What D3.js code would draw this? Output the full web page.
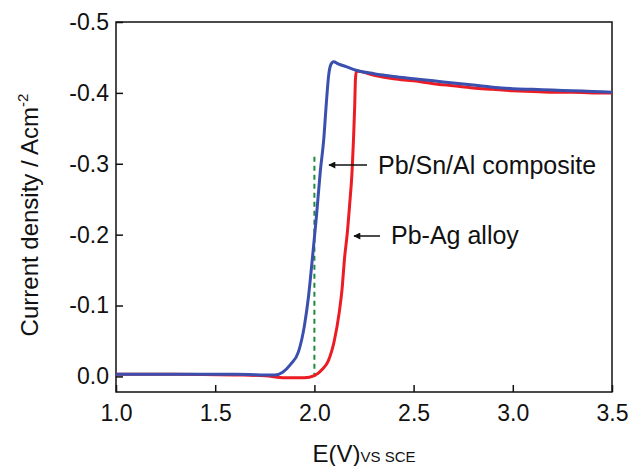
<!DOCTYPE html>
<html>
<head>
<meta charset="utf-8">
<script src="https://cdn.jsdelivr.net/npm/d3@7"></script>
<style>
  html, body { margin: 0; padding: 0; background: #fff; }
  text { font-family: "Liberation Sans", Arial, sans-serif; fill: #111; }
</style>
</head>
<body>
<div id="chart"></div>
<script>
// potential (V vs SCE) and current density (A/cm2, plotted negative up)
var composite_E = [1.0, 1.3, 1.6, 1.8, 1.84, 1.88, 1.92, 1.95, 1.97, 1.99, 2.01, 2.03, 2.047, 2.06, 2.072, 2.083, 2.097, 2.12, 2.16, 2.21, 2.3, 2.4, 2.5, 2.6, 2.7, 2.8, 2.9, 3.0, 3.1, 3.2, 3.3, 3.4, 3.5];
var composite_j = [-0.003, -0.003, -0.003, -0.002, -0.006, -0.017, -0.035, -0.072, -0.112, -0.167, -0.225, -0.29, -0.334, -0.385, -0.425, -0.44, -0.444, -0.441, -0.437, -0.432, -0.427, -0.423, -0.42, -0.417, -0.414, -0.411, -0.408, -0.406, -0.405, -0.404, -0.403, -0.402, -0.401];

var alloy_E = [1.0, 1.3, 1.6, 1.75, 1.85, 1.95, 2.0, 2.04, 2.07, 2.1, 2.125, 2.14, 2.152, 2.165, 2.177, 2.19, 2.197, 2.203, 2.207, 2.212, 2.3, 2.4, 2.5, 2.6, 2.7, 2.8, 2.9, 3.0, 3.1, 3.2, 3.3, 3.4, 3.5];
var alloy_j = [-0.003, -0.003, -0.002, -0.001, 0.002, 0.002, -0.001, -0.01, -0.022, -0.05, -0.09, -0.125, -0.167, -0.2, -0.24, -0.29, -0.334, -0.38, -0.42, -0.431, -0.425, -0.42, -0.417, -0.413, -0.41, -0.407, -0.405, -0.403, -0.402, -0.401, -0.401, -0.4, -0.4];

var x_ticks = [1.0, 1.5, 2.0, 2.5, 3.0, 3.5];
var y_ticks = [0.0, -0.1, -0.2, -0.3, -0.4, -0.5];

var width = 632, height = 466;
var margin = {left: 116, right: 20, top: 22, bottom: 74};

var svg = d3.select("#chart").append("svg")
  .attr("width", width)
  .attr("height", height);

var x = d3.scaleLinear().domain([1.0, 3.5]).range([margin.left, width - margin.right]);
var y = d3.scaleLinear().domain([0.022, -0.5]).range([height - margin.bottom, margin.top]);

// plain hyphen minus like the original figure
var fmt = function(d) { return d3.format(".1f")(Math.abs(d) < 1e-9 ? 0 : d).replace("\u2212", "-"); };

// arrow head
svg.append("defs").append("marker")
  .attr("id", "arrowhead")
  .attr("viewBox", "0 0 10 10")
  .attr("refX", 9)
  .attr("refY", 5)
  .attr("markerWidth", 11)
  .attr("markerHeight", 7)
  .attr("markerUnits", "userSpaceOnUse")
  .attr("orient", "auto")
  .append("path")
    .attr("d", "M0,0 L10,5 L0,10 Z")
    .attr("fill", "#111");

// axes with inward ticks
var xAxis = svg.append("g")
  .attr("transform", "translate(0," + y.range()[0] + ")")
  .call(d3.axisBottom(x).tickValues(x_ticks).tickSize(-7).tickPadding(13).tickFormat(fmt));

var yAxis = svg.append("g")
  .attr("transform", "translate(" + margin.left + ",0)")
  .call(d3.axisLeft(y).tickValues(y_ticks).tickSize(-7).tickPadding(7).tickFormat(fmt));

[xAxis, yAxis].forEach(function(g) {
  g.select(".domain").remove();
  g.selectAll(".tick line").attr("stroke", "#111").attr("stroke-width", 1.5);
  g.selectAll(".tick text")
    .style("font-size", "23px")
    .style("font-family", "'Liberation Sans', Arial, sans-serif")
    .attr("fill", "#111");
});

// frame
svg.append("rect")
  .attr("x", x.range()[0])
  .attr("y", y.range()[1])
  .attr("width", x.range()[1] - x.range()[0])
  .attr("height", y.range()[0] - y.range()[1])
  .attr("fill", "none")
  .attr("stroke", "#111")
  .attr("stroke-width", 1.5);

// green dashed marker at 2.0 V
svg.append("line")
  .attr("x1", x(2.0)).attr("x2", x(2.0))
  .attr("y1", y(-0.31)).attr("y2", y(0.0))
  .attr("stroke", "#1f8a3c")
  .attr("stroke-width", 2)
  .attr("stroke-dasharray", "5,4");

var line = d3.line()
  .x(function(d) { return x(d[0]); })
  .y(function(d) { return y(d[1]); })
  .curve(d3.curveMonotoneX);

var series = [
  {name: "alloy", E: alloy_E, j: alloy_j, color: "#ec1c24"},
  {name: "composite", E: composite_E, j: composite_j, color: "#3b4fae"}
];

svg.selectAll("path.curve")
  .data(series)
  .enter().append("path")
    .attr("class", "curve")
    .attr("fill", "none")
    .attr("stroke", function(d) { return d.color; })
    .attr("stroke-width", 3)
    .attr("stroke-linejoin", "round")
    .attr("d", function(d) { return line(d3.zip(d.E, d.j)); });

// annotations
var notes = [
  {text: "Pb/Sn/Al composite", tx: 378, ty: 174, ax1: 367, ax2: 329, ay: 165},
  {text: "Pb-Ag alloy", tx: 391, ty: 244, ax1: 380, ax2: 354, ay: 236}
];

notes.forEach(function(n) {
  svg.append("line")
    .attr("x1", n.ax1).attr("x2", n.ax2)
    .attr("y1", n.ay).attr("y2", n.ay)
    .attr("stroke", "#111")
    .attr("stroke-width", 1.5)
    .attr("marker-end", "url(#arrowhead)");
  svg.append("text")
    .attr("x", n.tx)
    .attr("y", n.ty)
    .style("font-size", "25px")
    .text(n.text);
});

// axis titles
var xt = svg.append("text")
  .attr("x", (x.range()[0] + x.range()[1]) / 2)
  .attr("y", 462)
  .attr("text-anchor", "middle")
  .style("font-size", "24px");
xt.append("tspan").text("E(V)");
xt.append("tspan").style("font-size", "15px").text("VS SCE");

var yt = svg.append("text")
  .attr("transform", "translate(38,215) rotate(-90)")
  .attr("text-anchor", "middle")
  .style("font-size", "24px");
yt.append("tspan").text("Current density / Acm");
yt.append("tspan").attr("dy", -10).style("font-size", "15px").text("-2");
</script>
</body>
</html>
